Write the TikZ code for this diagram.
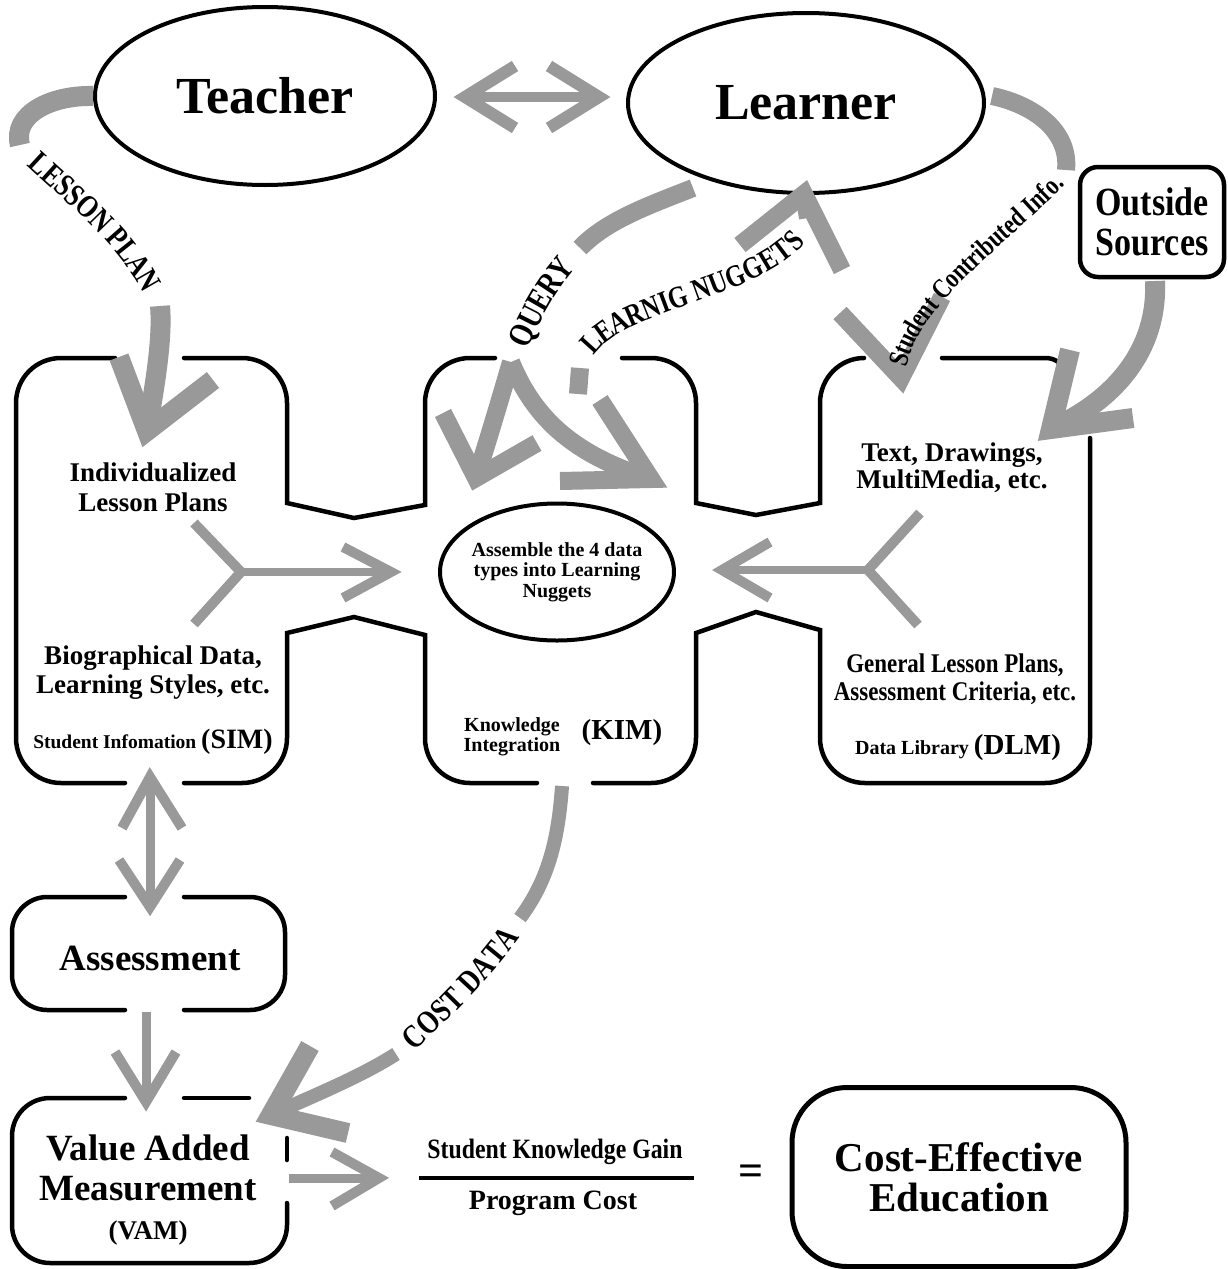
\documentclass[tikz,border=0pt]{standalone}
\usepackage{fontspec}
\setmainfont{Liberation Serif}
\newfontfamily\narrowfont{Liberation Serif}[FakeStretch=0.85]
\newfontfamily\curvefont{Liberation Serif}[FakeStretch=0.8]
\usetikzlibrary{shapes.geometric,decorations.text}
\newcommand{\setfs}[2]{\fontsize{#1}{#2}\selectfont}
\begin{document}
\begin{tikzpicture}[x=1pt,y=-1pt,
  band/.style={draw=black!40, line width=#1, line cap=butt, line join=miter},
  band/.default=18pt,
  boxline/.style={draw=black, line width=4.5pt, line cap=round, line join=miter},
  lbl/.style={align=center, inner sep=0pt, text=black},
  curvetext/.style={decorate, decoration={text along path, text align=center, raise=#1}},
  curvetext/.default=-10pt
  ]
\useasboundingbox (0,0) rectangle (1227,1269);
\fill[white] (0,0) rectangle (1227,1269);

% ---------- main nodes ----------
\node[ellipse, draw, line width=4pt, minimum width=340pt, minimum height=178pt, inner sep=0pt, font=\bfseries\setfs{52}{56}] (teacher) at (265,96) {Teacher};
\node[ellipse, draw, line width=4pt, minimum width=356pt, minimum height=180pt, inner sep=0pt, font=\bfseries\setfs{52}{56}] (learner) at (806,103) {Learner};
\node[draw, rounded corners=18pt, line width=4.5pt, minimum width=144pt, minimum height=110pt, align=center, inner sep=0pt, font=\narrowfont\bfseries\setfs{40}{40}] (outside) at (1152,222) {Outside\\Sources};

% ---------- outline of the three modules ----------
\draw[boxline] (115,358) -- (61,358) .. controls (36,358) and (16,378) .. (16,403) -- (16,738) .. controls (16,763) and (36,783) .. (61,783) -- (125,783);
\draw[boxline] (184,783) -- (242,783) .. controls (267,783) and (287,763) .. (287,738) -- (287,633) -- (354,617) -- (425,635) -- (425,738) .. controls (425,763) and (445,783) .. (470,783) -- (537,783);
\draw[boxline] (593,783) -- (651,783) .. controls (676,783) and (696,763) .. (696,738) -- (696,633) -- (756,612) -- (820,630) -- (820,738) .. controls (820,763) and (840,783) .. (865,783) -- (1045,783) .. controls (1070,783) and (1090,763) .. (1090,738) -- (1090,438);
\draw[boxline] (1058,362) .. controls (1054,359) and (1050,358) .. (1045,358) -- (942,358);
\draw[boxline] (864,358) .. controls (840,358) and (820,378) .. (820,403) -- (820,503) -- (756,515) -- (696,503) -- (696,403) .. controls (696,378) and (676,358) .. (651,358) -- (622,358);
\draw[boxline] (495,358) -- (470,358) .. controls (445,358) and (425,378) .. (425,403) -- (425,505) -- (354,518) -- (287,503) -- (287,403) .. controls (287,378) and (267,358) .. (242,358) -- (184,358);

% Assessment box
\draw[boxline] (125,897) -- (47,897) .. controls (28,897) and (12,913) .. (12,932) -- (12,975) .. controls (12,994) and (28,1010) .. (47,1010) -- (125,1010);
\draw[boxline] (184,1010) -- (250,1010) .. controls (269,1010) and (285,994) .. (285,975) -- (285,932) .. controls (285,913) and (269,897) .. (250,897) -- (184,897);
% VAM box
\draw[boxline] (125,1098) -- (50,1098) .. controls (29,1098) and (12,1115) .. (12,1136) -- (12,1225) .. controls (12,1246) and (29,1263) .. (50,1263) -- (249,1263) .. controls (270,1263) and (287,1246) .. (287,1225) -- (287,1203);
\draw[boxline] (184,1098) -- (249,1098);
\draw[boxline] (287,1138) -- (287,1160);

% ---------- texts inside modules ----------
\node[lbl, font=\bfseries\setfs{27}{30}] (ilp) at (153,487) {Individualized\\Lesson Plans};
\node[lbl, font=\bfseries\setfs{27}{29}] (bio) at (153,673) {Biographical Data,\\Learning Styles, etc.};
\node[lbl, font=\bfseries\setfs{19.5}{24}, anchor=base] (sim) at (153,748) {Student Infomation {\setfs{28}{30}(SIM)}};
\node[ellipse, draw, line width=4pt, minimum width=234pt, minimum height=137pt, inner xsep=-3pt, inner ysep=0pt, align=center, font=\bfseries\setfs{20}{20.5}] (assemble) at (557,572) {Assemble the 4 data\\types into Learning\\Nuggets};
\node[lbl, font=\bfseries\setfs{20}{20}] (kimlbl) at (512,737) {Knowledge\\Integration};
\node[lbl, font=\bfseries\setfs{29}{30}] (kimabbr) at (622,733) {(KIM)};
\node[lbl, font=\bfseries\setfs{27}{27}] (tdm) at (952,468) {Text, Drawings,\\MultiMedia, etc.};
\node[lbl, font=\narrowfont\bfseries\setfs{27}{28}] (glp) at (955,679) {General Lesson Plans,\\Assessment Criteria, etc.};
\node[lbl, font=\bfseries\setfs{20}{24}, anchor=base] (dlm) at (958,754) {Data Library {\setfs{29}{30}(DLM)}};

\node[lbl, font=\bfseries\setfs{37}{40}] (assess) at (150,958) {Assessment};
\node[lbl, font=\bfseries\setfs{37}{40}] (vam) at (148,1168) {Value Added\\Measurement};
\node[lbl, font=\bfseries\setfs{27}{30}] (vamabbr) at (148,1233) {(VAM)};

\node[lbl, font=\narrowfont\bfseries\setfs{28}{30}] (num) at (555,1152) {Student Knowledge Gain};
\node[lbl, font=\bfseries\setfs{28}{30}] (den) at (553,1203) {Program Cost};
\coordinate (fl1) at (419,1178);
\coordinate (fl2) at (694,1178);
\draw[line width=4pt] (fl1) -- (fl2);
\node[lbl, font=\bfseries\setfs{44}{44}] (eq) at (751,1175) {=};
\node[draw, rounded corners=55pt, line width=5pt, minimum width=334pt, minimum height=179pt, align=center, inner sep=0pt, font=\bfseries\setfs{41}{40}] (ce) at (959,1177) {Cost-Effective\\Education};

% ---------- gray connectors ----------
% Teacher <-> Learner
\coordinate (tl1) at (465,97);
\coordinate (tl2) at (599,97);
\draw[band=10pt] (tl1) -- (tl2);
\draw[band=12pt] (515,66) -- (tl1) -- (515,128);
\draw[band=12pt] (549,66) -- (tl2) -- (549,128);

% LESSON PLAN
\coordinate (lpT1) at (20,145);
\coordinate (lpT2) at (160,306);
\coordinate (lpTip) at (147,431);
\draw[band=20pt] (teacher.west) .. controls (50,95) and (12,115) .. (lpT1);
\draw[band=20pt] (lpT2) .. controls (163,340) and (154,390) .. (lpTip);
\draw[band=20pt] (119,357) -- (lpTip) -- (213,380);
\path[curvetext, decoration={text={|\curvefont\bfseries\setfs{32}{32}|LESSON PLAN}}] (lpT1) .. controls (65,190) and (135,240) .. (lpT2);

% QUERY
\coordinate (qA) at (693,188);
\coordinate (qT2) at (580,248);
\coordinate (qT1) at (511,362);
\coordinate (qL) at (476,478);
\coordinate (qR) at (651,479);
\draw[band=18pt] (qA) .. controls (650,205) and (607,220) .. (qT2);
\draw[band=18pt] (qT1) .. controls (500,400) and (488,440) .. (qL);
\draw[band=18pt] (443,413) -- (qL) -- (537,443);
\draw[band=18pt] (qT1) .. controls (535,420) and (575,455) .. (qR);
\draw[band=18pt] (600,400) -- (qR) -- (560,481);
\path[curvetext=-11pt, decoration={text={|\curvefont\bfseries\setfs{34}{34}|QUERY}}] (qT1) .. controls (527,320) and (550,276) .. (qT2);

% LEARNIG NUGGETS
\coordinate (lnA) at (578,394);
\coordinate (lnT1) at (580,368);
\coordinate (lnT2) at (808,218);
\coordinate (lnTip) at (804,194);
\draw[band=18pt] (lnA) -- (lnT1);
\draw[band=18pt] (lnT2) -- (lnTip);
\draw[band=18pt] (740,245) -- (lnTip) -- (842,270);
\path[curvetext, decoration={text={|\curvefont\bfseries\setfs{31}{31}|LEARNIG NUGGETS}}] (lnT1) .. controls (586,296) and (782,294) .. (lnT2);

% Student Contributed Info.
\coordinate (scA) at (992,96);
\coordinate (scT2) at (1066,170);
\coordinate (scT1) at (896,376);
\coordinate (scTip) at (901,378);
\draw[band=18pt] (scA) .. controls (1035,105) and (1070,132) .. (scT2);
\draw[band=18pt] (840,313) -- (scTip) -- (942,297);
\path[curvetext=-9pt, decoration={text={|\curvefont\bfseries\setfs{28}{28}|Student Contributed Info.}}] (scT1) .. controls (901,300) and (1020,225) .. (scT2);

% Outside Sources -> DLM
\coordinate (osA) at (1155,281);
\coordinate (osTip) at (1051,429);
\draw[band=20pt] (osA) .. controls (1158,350) and (1115,400) .. (osTip);
\draw[band=20pt] (1070,350) -- (osTip) -- (1133,418);

% COST DATA
\coordinate (cdA) at (562,786);
\coordinate (cdT2) at (520,918);
\coordinate (cdT1) at (396,1054);
\coordinate (cdTip) at (271,1115);
\draw[band=14pt] (cdA) .. controls (558,845) and (546,883) .. (cdT2);
\draw[band=14pt] (cdT1) .. controls (360,1077) and (315,1095) .. (cdTip);
\draw[band=20pt] (310,1046) -- (cdTip) -- (348,1133);
\path[curvetext=-11pt, decoration={text={|\curvefont\bfseries\setfs{33}{33}|COST DATA}}] (cdT1) .. controls (440,1012) and (487,968) .. (cdT2);

% SIM <-> Assessment
\coordinate (saT) at (150,777);
\coordinate (saB) at (150,907);
\draw[band=9pt] (saT) -- (saB);
\draw[band=10pt] (122,828) -- (saT) -- (182,828);
\draw[band=10pt] (119,860) -- (saB) -- (180,860);

% Assessment -> VAM
\coordinate (avA) at (146,1012);
\coordinate (avTip) at (146,1102);
\draw[band=9pt] (avA) -- (avTip);
\draw[band=10pt] (115,1052) -- (avTip) -- (176,1052);

% VAM -> fraction
\coordinate (vfA) at (289,1178);
\coordinate (vfTip) at (379,1178);
\draw[band=9pt] (vfA) -- (vfTip);
\draw[band=10pt] (332,1152) -- (vfTip) -- (332,1206);

% SIM internal arrow
\coordinate (sy) at (241,572);
\coordinate (syTip) at (391,572);
\draw[band=10pt] (194,523) -- (sy) -- (194,624);
\draw[band=8pt] (sy) -- (syTip);
\draw[band=10pt] (343,547) -- (syTip) -- (343,598);

% DLM internal arrow
\coordinate (dy) at (868,570);
\coordinate (dyTip) at (722,570);
\draw[band=10pt] (920,513) -- (dy) -- (918,625);
\draw[band=8pt] (dy) -- (dyTip);
\draw[band=10pt] (770,542) -- (dyTip) -- (770,598);
\end{tikzpicture}
\end{document}
